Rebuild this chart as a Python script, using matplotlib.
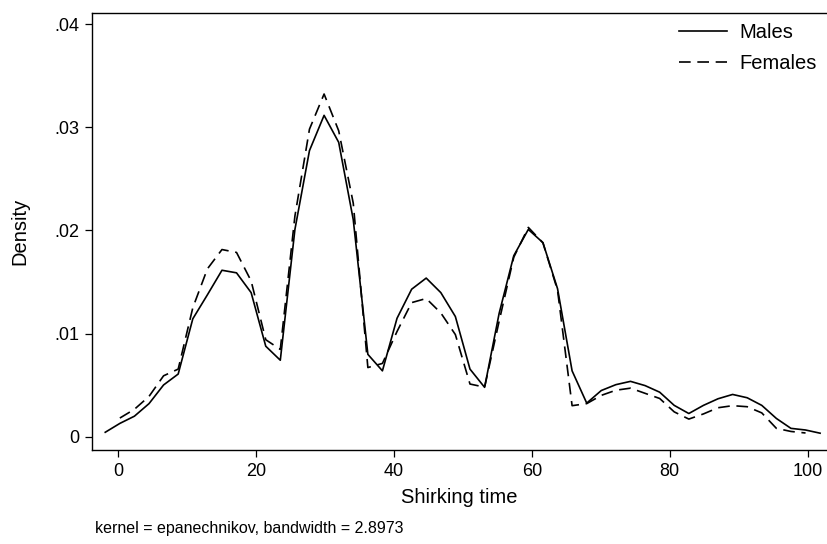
import matplotlib
matplotlib.use('Agg')
import matplotlib.pyplot as plt

plt.rcParams['font.family'] = ['Liberation Sans', 'DejaVu Sans']

# evaluation grid of the kernel density (shirking time)
grid = [-1.88, 0.24, 2.35, 4.47, 6.58, 8.70, 10.82, 12.93, 15.05, 17.16,
        19.28, 21.40, 23.51, 25.63, 27.74, 29.86, 31.98, 34.09, 36.21, 38.32,
        40.44, 42.56, 44.67, 46.79, 48.90, 51.02, 53.14, 55.25, 57.37, 59.48,
        61.60, 63.72, 65.83, 67.95, 70.06, 72.18, 74.30, 76.41, 78.53, 80.64,
        82.76, 84.88, 86.99, 89.11, 91.22, 93.34, 95.46, 97.57, 99.69, 101.80]

males = [0.00042, 0.00128, 0.00198, 0.00320, 0.00501, 0.00607, 0.01143, 0.01375, 0.01614, 0.01589,
         0.01397, 0.00877, 0.00741, 0.02010, 0.02775, 0.03117, 0.02855, 0.02105, 0.00798, 0.00638,
         0.01148, 0.01430, 0.01538, 0.01397, 0.01165, 0.00655, 0.00478, 0.01196, 0.01755, 0.02010,
         0.01882, 0.01435, 0.00638, 0.00325, 0.00447, 0.00504, 0.00536, 0.00495, 0.00431, 0.00303,
         0.00224, 0.00303, 0.00367, 0.00409, 0.00377, 0.00303, 0.00176, 0.00080, 0.00064, 0.00033]

# females start at the second grid point and stop at the second to last
females = [0.00180, 0.00265, 0.00390, 0.00590, 0.00655, 0.01250, 0.01627, 0.01815, 0.01787,
           0.01510, 0.00940, 0.00846, 0.02140, 0.02983, 0.03324, 0.02967, 0.02265, 0.00670, 0.00710,
           0.01020, 0.01300, 0.01340, 0.01200, 0.00990, 0.00510, 0.00480, 0.01120, 0.01740, 0.02030,
           0.01880, 0.01420, 0.00300, 0.00320, 0.00400, 0.00450, 0.00470, 0.00420, 0.00370, 0.00240,
           0.00170, 0.00220, 0.00280, 0.00300, 0.00290, 0.00230, 0.00080, 0.00050, 0.00035]

yticks = [0, 0.01, 0.02, 0.03, 0.04]
yticklabels = ['0', '.01', '.02', '.03', '.04']
xticks = [0, 20, 40, 60, 80, 100]

fig = plt.figure(figsize=(8.27, 5.44), dpi=100)
ax = fig.add_axes([92 / 827, 94 / 544, 1 - 92 / 827, 437 / 544])

ax.plot(grid, males, color='black', lw=1.2, label='Males')
ax.plot(grid[1:49], females, color='black', lw=1.2, dashes=(7, 4), label='Females')

ax.set_xlim(-3.8, 102.8)
ax.set_ylim(-0.0013, 0.0411)
ax.set_xticks(xticks)
ax.set_yticks(yticks)
ax.set_yticklabels(yticklabels)
ax.tick_params(direction='out', length=5, width=0.9, labelsize=13, pad=4, colors='black')

for side in ['left', 'bottom', 'top']:
    ax.spines[side].set_color('black')
    ax.spines[side].set_linewidth(1.0)
ax.spines['right'].set_visible(False)

ax.set_xlabel('Shirking time', fontsize=14.5, labelpad=6)
ax.set_ylabel('Density', fontsize=14.5, labelpad=18)

ax.legend(loc='upper left', bbox_to_anchor=(679 / 827, 1 - 23 / 544),
          bbox_transform=fig.transFigure, frameon=False, fontsize=14.5,
          handlelength=2.4, handletextpad=0.6, labelspacing=0.6,
          borderpad=0, borderaxespad=0)

fig.text(95 / 827, 1 - 528 / 544, 'kernel = epanechnikov, bandwidth = 2.8973',
         fontsize=11.5, va='center', ha='left')

fig.savefig('out.png', dpi=100)
